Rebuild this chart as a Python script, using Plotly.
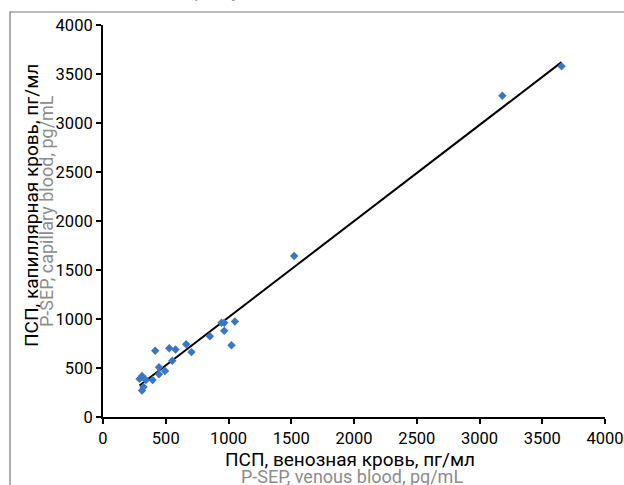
import numpy as np
import plotly.graph_objects as go

# P-SEP, venous blood (x) vs capillary blood (y), pg/mL
venous = [291, 311, 311, 323, 342, 395, 416, 446, 446, 494, 528, 552, 578,
          663, 705, 852, 944, 966, 966, 1024, 1051, 1523, 3182, 3654]
capillary = [389, 419, 270, 307, 378, 378, 675, 508, 437, 470, 702, 573, 689,
             743, 662, 825, 961, 961, 879, 733, 975, 1643, 3279, 3579]

tick_vals = [0, 500, 1000, 1500, 2000, 2500, 3000, 3500, 4000]

x_title_ru = "ПСП, венозная кровь, пг/мл"
x_title_en = "P-SEP, venous blood, pg/mL"
y_title_ru = "ПСП, капиллярная кровь, пг/мл"
y_title_en = "P-SEP, capillary blood, pg/mL"
top_text = "P-SEP: venous vs capillary blood"

# least-squares regression line over the data range
slope, intercept = np.polyfit(venous, capillary, 1)
fit_x = [min(venous), max(venous)]
fit_y = [slope * v + intercept for v in fit_x]

W, H = 624, 485
L, R, T, B = 103, 19, 25, 68
pw, ph = W - L - R, H - T - B

def px(xp):
    return (xp - L) / pw

def py(yp):
    return (H - B - yp) / ph

fig = go.Figure()
fig.add_trace(go.Scatter(x=fit_x, y=fit_y, mode="lines",
                         line=dict(color="black", width=2), hoverinfo="skip"))
fig.add_trace(go.Scatter(x=venous, y=capillary, mode="markers",
                         marker=dict(symbol="diamond", size=6.5, color="#3b76c4",
                                     line=dict(width=0))))

axis_common = dict(range=[0, 4000], tickvals=tick_vals, showgrid=False,
                   zeroline=False, showline=True, linecolor="black", linewidth=2,
                   ticks="outside", ticklen=5, tickwidth=1.5, tickcolor="black",
                   tickfont=dict(family="Roboto", size=16.5, color="black"))

fig.update_layout(
    width=W, height=H,
    margin=dict(l=L, r=R, t=T, b=B, autoexpand=False),
    paper_bgcolor="white", plot_bgcolor="white",
    showlegend=False,
    xaxis=dict(**axis_common, automargin=False),
    yaxis=dict(**axis_common, automargin=False),
    shapes=[dict(type="rect", xref="paper", yref="paper",
                 x0=px(10), x1=px(700), y0=py(600), y1=py(12),
                 line=dict(color="#7a7a7a", width=1.2), fillcolor="rgba(0,0,0,0)",
                 layer="below")],
    annotations=[
        dict(text=x_title_ru, xref="paper", yref="paper", x=px(350), y=py(459),
             xanchor="center", yanchor="middle", showarrow=False,
             font=dict(family="Roboto", size=19, color="black")),
        dict(text=x_title_en, xref="paper", yref="paper", x=px(352), y=py(476),
             xanchor="center", yanchor="middle", showarrow=False,
             font=dict(family="Roboto", size=18, color="#8c8c8c")),
        dict(text=y_title_ru, xref="paper", yref="paper", x=px(31), y=py(206),
             xanchor="center", yanchor="middle", showarrow=False, textangle=-90,
             font=dict(family="Roboto", size=19, color="black")),
        dict(text=y_title_en, xref="paper", yref="paper", x=px(46), y=py(211),
             xanchor="center", yanchor="middle", showarrow=False, textangle=-90,
             font=dict(family="Roboto", size=18, color="#8c8c8c")),
        dict(text=top_text, xref="paper", yref="paper", x=px(40), y=py(4.5),
             xanchor="left", yanchor="bottom", showarrow=False,
             font=dict(family="Roboto", size=17, color="#9a9a9a")),
    ],
)

fig.write_html("out.html", config={"displayModeBar": False},
               post_script="document.body.style.margin='0px';")
